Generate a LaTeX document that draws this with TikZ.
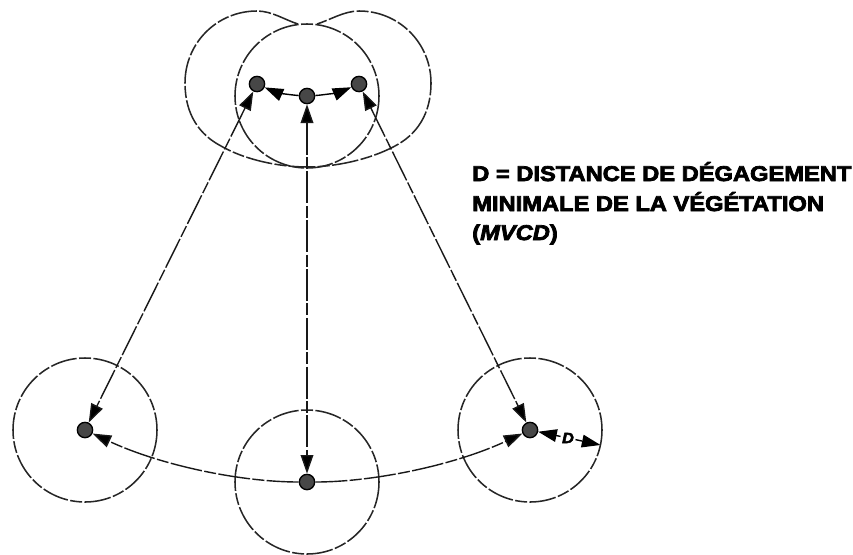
\documentclass[tikz,border=0pt]{standalone}
\usepackage{fontspec}
\setmainfont{Liberation Sans}
\newfontfamily\heavy[FakeBold=3.6,FakeStretch=1.11]{Liberation Sans Bold}
\newfontfamily\heavyit[FakeBold=3.6,FakeStretch=1.11]{Liberation Sans Bold Italic}
\usetikzlibrary{arrows.meta}
\tikzset{
  x=0.75pt,y=-0.75pt,
  envelope/.style={line width=1.15pt,black!85,dash pattern=on 20pt off 1.8pt on 9pt off 1.8pt},
  dimline/.style={line width=1.05pt,black!90,dash pattern=on 24pt off 1.8pt on 9pt off 1.8pt},
  endtip/.style={{Triangle[length=14pt,width=9.5pt,fill=black]}-{Triangle[length=14pt,width=9.5pt,fill=black]}},
  hometip/.style={-{Triangle[length=14pt,width=9.5pt,fill=black]}},
  dot/.style={circle,draw=black,line width=1pt,fill=black!72,minimum size=11.5pt,inner sep=0pt},
  caption/.style={anchor=base west,inner sep=0pt,font=\fontsize{16pt}{18pt}\heavy,text=black}
}
\begin{document}
\begin{tikzpicture}
\useasboundingbox (0,0) rectangle (853,554);
% circles
\draw[envelope] (85,430) circle [radius=72];
\draw[envelope] (307,482) circle [radius=72];
\draw[envelope] (530,430) circle [radius=72];
\draw[envelope] (307,96) circle [radius=72];
% swept outline
\draw[envelope] (298,24) .. controls (285,20) and (272,11) .. (257,11)
  .. controls (217,11) and (185,43) .. (185,83)
  .. controls (185,115) and (200,135) .. (221,146)
  .. controls (245,160) and (280,167) .. (307,167)
  .. controls (334,167) and (369,160) .. (395,146)
  .. controls (416,135) and (431,115) .. (431,83)
  .. controls (431,43) and (399,11) .. (359,11)
  .. controls (344,11) and (330,20) .. (317,24);
% dots
\node[dot] (tl) at (257,84) {};
\node[dot] (tc) at (307,96) {};
\node[dot] (tr) at (359,84) {};
\node[dot] (bl) at (85,430) {};
\node[dot] (bc) at (307,482) {};
\node[dot] (br) at (530,430) {};
\node[inner sep=1pt,font=\fontsize{11pt}{11pt}\heavyit] (d) at (568,438) {D};
\coordinate (edge) at (600.5,445);
% connectors
\draw[dimline,endtip] (tl) -- (bl);
\draw[dimline,endtip] (tc) -- (bc);
\draw[dimline,endtip] (tr) -- (br);
\draw[line width=1.05pt,hometip] (tc) .. controls (290,95) and (275,92) .. (tl);
\draw[line width=1.05pt,hometip] (tc) .. controls (324,95) and (340,92) .. (tr);
\draw[dimline,hometip] (bc) .. controls (240,482) and (160,465) .. (bl);
\draw[dimline,hometip] (bc) .. controls (374,482) and (455,465) .. (br);
\draw[line width=1.05pt,hometip,dash pattern=on 5pt off 1.5pt] (d) -- (br);
\draw[line width=1.05pt,hometip,dash pattern=on 5pt off 1.5pt] (d) -- (edge);
% caption
\node[caption] (c1) at (472,181) {D = DISTANCE DE DÉGAGEMENT};
\node[caption] (c2) at (472,211) {MINIMALE DE LA VÉGÉTATION};
\node[caption] (c3) at (472,240) {(\heavyit MVCD\heavy)};
\end{tikzpicture}
\end{document}
